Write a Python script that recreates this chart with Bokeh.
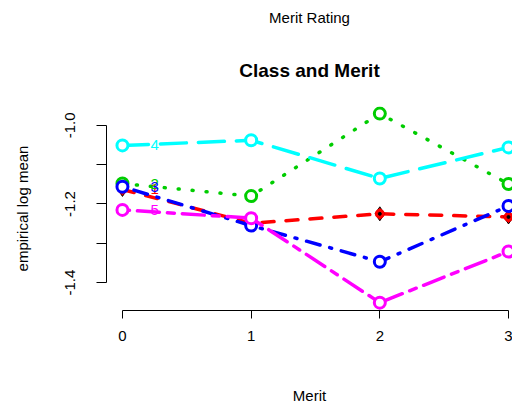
import math
from bokeh.plotting import figure
from bokeh.models import Range1d, FixedTicker, Title
from bokeh.embed import file_html
from bokeh.resources import INLINE
from bokeh.core.properties import value

# ---- data ----
merit = [0, 1, 2, 3]
class_labels = ["1", "2", "3", "4", "5"]
class1 = [-1.163, -1.249, -1.225, -1.233]
class2 = [-1.148, -1.180, -0.970, -1.149]
class3 = [-1.156, -1.255, -1.347, -1.205]
class4 = [-1.051, -1.038, -1.135, -1.056]
class5 = [-1.215, -1.236, -1.451, -1.321]
series = [class1, class2, class3, class4, class5]
label_merit = 0.25
xtick_values = [0, 1, 2, 3]
ytick_values = [-1.4, -1.3, -1.2, -1.1, -1.0]
ytick_labels = ["-1.4", "", "-1.2", "", "-1.0"]

# ---- styles ----
colors = ["#FF0000", "#00CD00", "#0000FF", "#00FFFF", "#FF00FF"]
dashes = ["12 12", "1 13", "2 10 14 10", "26 12", "7 8 22 8"]
FONT = "Liberation Sans"

p = figure(width=512, height=406,
           x_range=Range1d(-0.124, 3.031), y_range=Range1d(-1.471, -0.952),
           output_backend="svg", toolbar_location=None,
           min_border_left=106, min_border_right=0,
           min_border_top=106, min_border_bottom=95,
           title="Merit Rating")
p.outline_line_color = None
p.xgrid.visible = False
p.ygrid.visible = False
p.background_fill_color = "white"
p.border_fill_color = "white"

p.title.align = "center"
p.title.text_font = FONT
p.title.text_font_size = "15px"
p.title.text_font_style = "normal"
p.title.text_color = "black"
p.title.standoff = 11
p.add_layout(Title(text="Class and Merit", align="center", text_font=FONT,
                   text_font_size="19px", text_font_style="bold",
                   text_color="black", standoff=52), "above")

# x axis
xa = p.xaxis[0]
xa.ticker = FixedTicker(ticks=xtick_values)
xa.bounds = (xtick_values[0], xtick_values[-1])
xa.major_tick_out = 8
xa.major_tick_in = 0
xa.minor_tick_out = 0
xa.minor_tick_in = 0
xa.major_label_standoff = 12
xa.major_label_text_font = FONT
xa.major_label_text_font_size = "15px"
xa.major_label_text_color = "black"
xa.axis_label = "Merit"
xa.axis_label_text_font = FONT
xa.axis_label_text_font_size = "15px"
xa.axis_label_text_font_style = "normal"
xa.axis_label_text_color = "black"
xa.axis_label_standoff = 43
xa.axis_line_color = "black"
xa.major_tick_line_color = "black"

# y axis
ya = p.yaxis[0]
ya.ticker = FixedTicker(ticks=ytick_values)
ya.bounds = (ytick_values[0], ytick_values[-1])
ya.major_label_overrides = {v: s for v, s in zip(ytick_values, ytick_labels)}
ya.major_label_orientation = "parallel"
ya.major_tick_out = 10
ya.major_tick_in = 0
ya.minor_tick_out = 0
ya.minor_tick_in = 0
ya.major_label_standoff = 21
ya.major_label_text_font = FONT
ya.major_label_text_font_size = "15px"
ya.major_label_text_color = "black"
ya.axis_label = "empirical log mean"
ya.axis_label_text_font = FONT
ya.axis_label_text_font_size = "15px"
ya.axis_label_text_font_style = "normal"
ya.axis_label_text_color = "black"
ya.axis_label_standoff = 32
ya.axis_line_color = "black"
ya.major_tick_line_color = "black"

# series
for i, (vals, col, dash) in enumerate(zip(series, colors, dashes)):
    p.line(merit, vals, line_color=col, line_width=3.5, line_dash=dash,
           line_cap="round")
    if i == 0:
        p.scatter(merit, vals, marker="diamond", size=14, fill_color=col,
                  line_color="black", line_width=1)
        p.scatter(merit, vals, marker="circle", size=9, fill_color=col,
                  line_color=col, line_width=1)
        p.scatter(merit, vals, marker="circle", size=3, fill_color="black",
                  line_color="black")
    else:
        p.scatter(merit, vals, marker="circle", size=11, fill_color="white",
                  line_color=col, line_width=3)

p.text(x=[label_merit] * len(series), y=[s[0] for s in series],
       text=class_labels, text_color=colors, text_align="center",
       text_baseline="middle", text_font=value(FONT),
       text_font_size="15px")

open("out.html", "w").write(file_html(p, INLINE))
